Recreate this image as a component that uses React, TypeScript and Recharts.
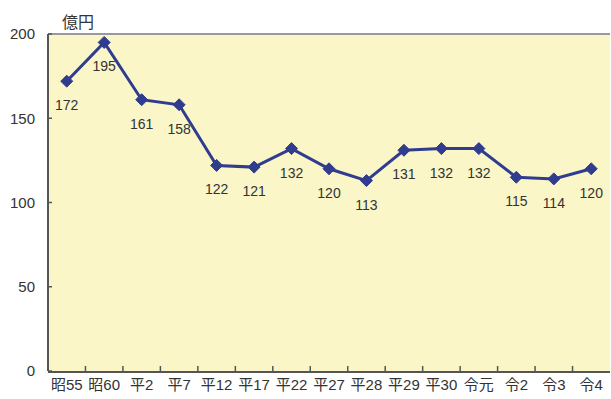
import React from 'react';
import { LineChart, Line, XAxis, YAxis, CartesianGrid, LabelList, ReferenceLine } from 'recharts';

const categories = ['昭55', '昭60', '平2', '平7', '平12', '平17', '平22', '平27', '平28', '平29', '平30', '令元', '令2', '令3', '令4'];
const values = [172, 195, 161, 158, 122, 121, 132, 120, 113, 131, 132, 132, 115, 114, 120];
const yTicks = [0, 50, 100, 150, 200];
const categoryTicks = [0, 1, 2, 3, 4, 5, 6, 7, 8, 9, 10, 11, 12, 13, 14];
const boundaryTicks = [0.5, 1.5, 2.5, 3.5, 4.5, 5.5, 6.5, 7.5, 8.5, 9.5, 10.5, 11.5, 12.5, 13.5];
const unitLabel = '億円';

const data = categories.map((c, i) => ({ name: c, value: values[i], i }));

const FONT = "'Liberation Sans', 'Noto Sans CJK JP', sans-serif";
const NAVY = '#303C8E';

const Diamond = (props: any) => {
  const { cx, cy } = props;
  if (cx == null || cy == null) return null;
  const r = 6;
  return (
    <polygon
      points={`${cx},${cy - r} ${cx + r},${cy} ${cx},${cy + r} ${cx - r},${cy}`}
      fill={NAVY}
      stroke={NAVY}
      strokeWidth={1}
    />
  );
};

const EmptyTick = () => <g />;

export default function App() {
  return (
    <div style={{ position: 'absolute', left: 0, top: 0, width: 611, height: 399, background: '#fff', fontFamily: FONT }}>
      <div style={{ position: 'absolute', left: 62, top: 9, fontSize: 16, color: '#333', fontFamily: FONT }}>{unitLabel}</div>
      <LineChart width={611} height={399} data={data} margin={{ top: 34, right: 1, left: 0, bottom: 0 }}>
        <CartesianGrid xAxisId="z" horizontal={false} vertical={false} fill="#FAF6C8" />
        <XAxis
          xAxisId="b"
          type="number"
          dataKey="i"
          domain={[-0.5, 14.5]}
          allowDataOverflow
          ticks={boundaryTicks}
          tick={<EmptyTick />}
          tickSize={-5}
          axisLine={false}
          height={1}
          tickLine={{ stroke: '#555', strokeWidth: 1.5 }}
        />
        <XAxis
          xAxisId="z"
          type="number"
          dataKey="i"
          domain={[-0.5, 14.5]}
          allowDataOverflow
          ticks={categoryTicks}
          tickFormatter={(v: number) => categories[v] ?? ''}
          height={27}
          tickLine={false}
          tickSize={0}
          tickMargin={7}
          interval={0}
          axisLine={{ stroke: '#555', strokeWidth: 2 }}
          tick={{ fill: '#333', fontSize: 15, fontFamily: FONT }}
        />
        <YAxis
          width={48}
          domain={[0, 200]}
          ticks={yTicks}
          tickSize={-4}
          tickMargin={17}
          axisLine={{ stroke: '#555', strokeWidth: 2 }}
          tickLine={{ stroke: '#555', strokeWidth: 1.5 }}
          tick={{ fill: '#333', fontSize: 15, fontFamily: FONT }}
        />
        <ReferenceLine xAxisId="z" y={200} stroke="#999" strokeWidth={2} />
        <Line
          xAxisId="z"
          type="linear"
          dataKey="value"
          stroke={NAVY}
          strokeWidth={3}
          dot={<Diamond />}
          activeDot={false}
          isAnimationActive={false}
        >
          <LabelList dataKey="value" position="bottom" offset={19} fill="#333" fontSize={14} fontFamily={FONT} />
        </Line>
      </LineChart>
    </div>
  );
}
